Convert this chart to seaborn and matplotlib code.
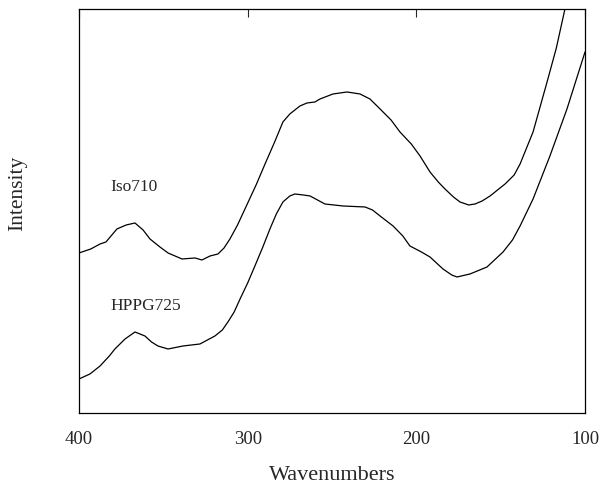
import numpy as np
import pandas as pd
import matplotlib
matplotlib.use("Agg")
import matplotlib.pyplot as plt
import seaborn as sns

# Iso710 (upper trace)
iso_w = [400, 393, 387.5, 384, 377.5, 372, 366.8, 362, 357.9, 352, 347.2, 338.9, 331.2,
         327.1, 322.3, 317.6, 314, 310.5, 306, 301.6, 295, 289.7, 284, 279.1, 275,
         269, 264.8, 260.1, 257.1, 249.4, 241.1, 233.4, 227.5, 221.5, 215, 209.7,
         203, 197.8, 191.9, 187, 183, 178, 174.1, 169, 165.2, 161, 156.3, 147.4,
         142, 138.5, 130.8, 122.5, 117, 111.9, 105]
iso_i = [160, 164, 169, 171, 184, 188, 190, 183, 174, 166, 160, 154, 155,
         153, 157, 159, 165, 174, 188, 204, 228, 249, 271, 291, 299,
         307, 310, 311, 314, 319, 321, 319, 314, 304, 293, 281,
         269, 257, 241, 231, 224, 216, 211, 208, 209, 212, 217, 229,
         238, 249, 281, 331, 365, 404, 460]

# HPPG725 (lower trace)
hppg_w = [400, 393.5, 387.5, 382, 378.7, 372.7, 366.8, 360.9, 357, 353.2, 347.2,
          338.3, 328.3, 319.4, 315, 311.7, 308, 304.5, 300, 295.7, 291, 286.8, 283,
          279.1, 275, 272, 267, 263, 254.2, 243.5, 230.4, 226, 221.5, 213.8, 208,
          203.8, 197, 191.9, 184.2, 179, 175.9, 168.2, 158.1, 148.6, 143, 138.5,
          130.8, 120.8, 110.7, 100]
hppg_i = [34, 39, 47, 57, 64, 74, 81, 77, 71, 67, 64,
          67, 69, 77, 83, 91, 101, 114, 130, 147, 166, 184, 199,
          211, 217, 219, 218, 217, 209, 207, 206, 203, 197, 187, 177,
          167, 161, 156, 144, 138, 136, 139, 146, 161, 173, 187,
          214, 257, 304, 361]

sns.set_style("white")
plt.rcParams['font.family'] = ['Liberation Serif', 'DejaVu Serif']

iso = pd.DataFrame({'w': iso_w, 'I': iso_i})
hppg = pd.DataFrame({'w': hppg_w, 'I': hppg_i})

fig = plt.figure(figsize=(6.01, 4.89), dpi=100)
ax = fig.add_axes([0.1314, 0.1534, 0.842, 0.8262])

sns.lineplot(data=iso, x='w', y='I', color='black', lw=0.9, sort=False, ax=ax)
sns.lineplot(data=hppg, x='w', y='I', color='black', lw=0.9, sort=False, ax=ax)

ax.set_xlim(400, 100)
ax.set_ylim(0, 404)
ax.set_xticks([400, 300, 200, 100])
ax.set_yticks([])
ax.tick_params(axis='x', direction='in', top=True, length=6, width=0.8,
               pad=12, labelsize=13.5)
for s in ax.spines.values():
    s.set_color('black')
    s.set_linewidth(0.9)

ax.set_xlabel('Wavenumbers', fontsize=16, labelpad=13)
ax.set_ylabel('')
fig.text(0.03, 0.605, 'Intensity', rotation=90, fontsize=15.5,
         ha='center', va='center')

ax.text(381.5, 414 - 187, 'Iso710', fontsize=12.5, ha='left', va='center')
ax.text(381.5, 414 - 306, 'HPPG725', fontsize=12.5, ha='left', va='center')

fig.savefig('out.png', dpi=100)
